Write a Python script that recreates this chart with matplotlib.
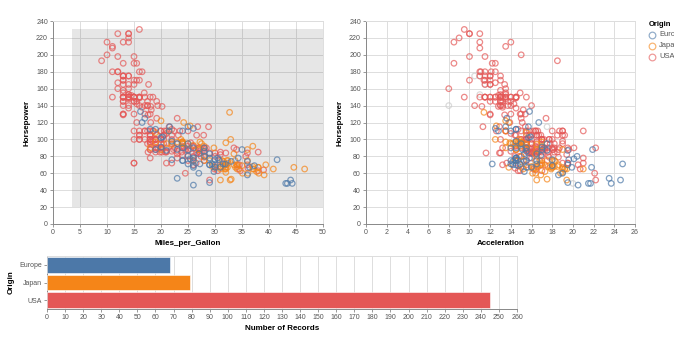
import numpy as np
import matplotlib
matplotlib.use('Agg')
from matplotlib import pyplot as plt
from matplotlib.lines import Line2D
from matplotlib.patches import Rectangle

plt.rcParams['font.family'] = ['Liberation Sans', 'DejaVu Sans']

# (Miles_per_Gallon, Horsepower, Acceleration)
usa_cars = [
  (18,130,12),(15,165,11.5),(18,150,11),(16,150,12),(17,140,10.5),(15,198,10),(14,220,9),
  (14,215,8.5),(14,225,10),(15,190,8.5),(15,170,10),(14,160,8),(15,150,9.5),(14,225,10),
  (22,95,15.5),(18,97,15.5),(21,85,16),(21,90,15),(10,215,14),(10,200,15),(11,210,13.5),
  (9,193,18.5),(28,90,15.5),(19,100,13),(16,105,15.5),(17,100,15.5),(19,88,15.5),(18,100,15.5),
  (14,165,12),(14,175,11.5),(14,153,13.5),(14,150,13),(12,180,11.5),(13,170,12),(13,175,12),
  (18,110,13.5),(22,72,19),(19,100,15),(18,88,14.5),(23,86,14),(26,70,20.5),(20,90,19.5),
  (21,86,16.5),(13,165,12),(14,175,12),(15,150,13.5),(14,153,13),(17,150,11.5),(11,208,11),
  (13,155,13.5),(12,160,13.5),(13,190,12.5),(15,150,12.5),(13,130,14),(13,140,13),(14,150,11.5),
  (22,86,16),(13,175,13),(14,150,11.5),(13,145,13),(14,137,14.5),(15,150,12.5),(12,198,11.5),
  (13,150,12),(13,158,13),(14,150,14.5),(13,215,11),(12,225,11),(13,175,11),(18,105,16.5),
  (16,100,18),(18,100,16),(18,88,16.5),(23,95,16),(11,150,14),(12,167,12.5),(13,170,13),
  (12,180,12.5),(18,100,15),(21,72,19.5),(19,85,18.5),(21,107,14),(15,145,13),(16,230,9.5),
  (15,150,13),(11,180,11),(20,95,16.5),(19,100,17),(15,100,17),(26,80,16.5),(25,75,17),
  (16,100,17),(16,110,18),(18,105,16.5),(16,140,14),(13,150,14.5),(14,150,13.5),(14,140,16),
  (14,150,15.5),(28,75,15.5),(19,95,16),(18,105,16),(15,72,21),(15,72,19.5),(16,170,11.5),
  (15,145,14),(16,150,14.5),(14,148,13.5),(17,110,21),(16,105,18.5),(15,110,19),(18,95,19),
  (21,110,15),(20,110,13.5),(13,129,12),(23,83,16),(20,100,17),(23,78,16),(18,97,16.5),
  (19,90,17),(25,92,14.9),(26,79,17.7),(25,80,17),(17.5,140,13),(16,150,13),(15.5,120,13.9),
  (14.5,152,12.8),(22,100,15.4),(22,105,14.5),(24,81,17.6),(22.5,90,17.6),(29,52,22.2),
  (24.5,60,22.1),(20,100,17.7),(18,78,21),(18.5,110,16.2),(17.5,95,17.8),(26.5,72,13.6),
  (13,150,13.2),(16.5,180,12.1),(13,145,12),(13,130,15),(13,150,14),(30,80,14.8),(25.5,96,15.5),
  (17.5,145,12.5),(17,110,19),(15.5,145,13.7),(15,130,14.9),(17.5,110,16.4),(20.5,105,16.9),
  (19,100,17.7),(18.5,98,19),(16,180,11.1),(15.5,170,11.4),(15.5,190,12.2),(16,149,14.5),
  (24.5,88,16),(25.5,89,15.8),(30.5,63,17),(36.1,66,14.4),(19.9,110,15.5),(19.4,140,13.2),
  (20.2,139,12.8),(19.2,105,19.2),(20.5,95,18.2),(20.2,85,15.8),(25.1,88,15.4),(20.5,100,17.2),
  (19.4,90,17.2),(20.6,105,15.8),(20.8,85,16.7),(18.6,110,18.7),(18.1,120,15.1),(19.2,145,13.2),
  (17.7,165,13.4),(18.1,139,11.2),(17.5,140,13.7),(30,68,16.5),(30.9,75,14.5),(23.2,105,16.7),
  (23.8,85,17.6),(21.5,115,15.4),(19.8,85,18.2),(22.3,88,17.3),(20.2,90,18.2),(20.6,110,16.6),
  (17,130,15.4),(17.6,129,13.4),(16.5,138,13.2),(18.2,135,15.2),(16.9,155,14.9),(15.5,142,14.3),
  (19.2,125,15),(18.5,150,13),(35.7,80,14.4),(27.4,80,15),(23,125,17.4),(23.9,90,22.2),
  (34.2,70,13.2),(34.5,70,14.9),(28.4,90,16),(28.8,115,11.3),(26.8,115,12.9),(33.5,90,13.2),
  (32.1,70,15.5),(28,90,16.5),(26.4,88,18.1),(24.3,90,20.1),(19.1,90,18.7),(27.9,105,14.4),
  (27.2,84,15.7),(26.6,84,16.4),(25.8,92,14.4),(23.5,110,12.6),(30,84,12.9),(39,64,16.4),
  (34.7,63,14.9),(34.4,65,16.2),(29.9,65,20.7),(22.4,110,15.8),(26.6,105,19),(20.2,88,17.1),
  (17.6,85,16.6),(28,88,19.6),(27,88,18.6),(34,88,18),(31,85,16.2),(29,84,16),(27,90,18),
  (24,92,16.4),(38,63,14.7),(36,70,17.3),(25,110,16.4),(38,85,17),(26,92,14.5),(22,112,14.7),
  (36,84,13),(27,90,17.3),(27,86,15.6),(32,84,11.6),(28,79,18.6),(31,82,19.4),
]
europe_cars = [
  (26,46,20.5),(25,87,17.5),(24,90,14.5),(25,95,17.5),(26,113,12.5),(28,90,14),(30,70,19.5),
  (30,76,14.5),(27,60,19),(23,54,23.5),(18,112,14.5),(22,76,18),(21,87,19.5),(26,69,18),
  (26,90,15.5),(29,49,19.5),(24,75,16.5),(20,91,17),(19,112,14.5),(24,110,14),(29,83,16.5),
  (26,67,15.5),(26,78,14.5),(24,75,15.5),(26,75,14),(31,67,16),(25,71,16.5),(29,70,14.5),
  (23,95,15),(23,88,17),(22,98,14.5),(25,115,13.5),(28,86,15.5),(25,81,16.9),(27,83,15.3),
  (29,70,14.2),(29.5,71,12.2),(20,102,15.7),(19,88,21.9),(16.5,120,16.7),(36,58,18.6),
  (29,78,14.5),(30.5,78,14.5),(21.5,110,12.8),(43.1,48,21.5),(20.3,103,15.9),(17,125,13.6),
  (21.6,115,15.7),(16.2,133,15.8),(31.5,71,14.9),(31.9,71,14),(25.4,77,20.1),(27.2,71,24.8),
  (37.3,69,14.7),(41.5,76,14.7),(34.3,78,15.8),(44.3,48,21.7),(43.4,48,23.7),(36.4,67,19.9),
  (30,67,21.8),(29.8,62,15.3),(35,88,15.1),(33,74,14.2),(28.1,80,20.4),(30.7,76,19.6),
  (36,74,15.3),(44,52,24.6),
]
japan_cars = [
  (24,95,15),(27,88,14.5),(25,95,14),(31,65,19),(35,69,18),(24,95,15.5),(19,97,13.5),
  (28,92,17),(23,97,14.5),(28,80,15),(27,88,16.5),(20,88,19),(22,94,16.5),(18,90,13.5),
  (20,122,13.5),(31,67,19),(32,65,21),(31,52,16.5),(32,61,19),(24,97,15),(26,93,15.5),
  (29,75,18),(24,96,15),(24,97,17),(33,53,17.5),(32,70,17),(28,75,16.4),(19,108,15.5),
  (31.5,68,18.5),(33.5,70,16.8),(26,75,18.2),(33.5,83,16.4),(30,67,18),(22,97,14.5),
  (21.5,110,13.5),(32.8,52,19.4),(39.4,70,18.6),(36.1,60,16.4),(27.5,95,14.2),(27.2,97,14.7),
  (21.1,95,14.8),(23.9,97,14.9),(29.5,68,16.6),(34.1,65,15.2),(31.8,65,19.2),(38.1,60,18.8),
  (37.2,65,16.4),(29.8,90,15.5),(31.3,75,17.5),(37,92,15),(32.2,75,15.2),(46.6,65,17.9),
  (40.8,65,19.2),(44.6,67,13.8),(33.8,67,18),(32.7,132,11.4),(23.7,100,12.5),(32.4,72,17),
  (39.1,58,16.9),(35.1,60,16.1),(32.3,67,17.8),(37,65,19.4),(37.7,62,17.3),(34.1,68,16),
  (33.7,75,14.4),(32.4,75,16.8),(32.9,100,14.8),(31.6,74,18.3),(25.4,116,12.6),(24.2,120,13.8),
  (37,68,18.2),(31,68,17.6),(36,88,14.5),(36,75,14.5),(34,70,16.9),(38,67,15),(32,67,15.7),
  (38,67,16.2),(32,96,13.9),
]
# cars outside the brush (no mpg value): (Horsepower, Acceleration)
unselected_cars = [(115,17.5),(165,11.5),(153,11),(175,10.5),(175,11),(140,8),(48,20),(110,15.4)]

origins = ['Europe', 'Japan', 'USA']
record_counts = [68, 79, 245]
colors = {'Europe': '#4c78a8', 'Japan': '#f58518', 'USA': '#e45756'}
cars_by_origin = {'Europe': europe_cars, 'Japan': japan_cars, 'USA': usa_cars}

brush_mpg = (3.6, 50)
brush_hp = (20, 231)

GRID = '#dddddd'
DOMAIN = '#888888'
TICK_FS = 5
TITLE_FS = 5.8
PT_SIZE = 16

def style_axes(ax, grid_axis='both'):
  for s in ['top', 'right']:
    ax.spines[s].set_color(GRID)
    ax.spines[s].set_linewidth(0.7)
  for s in ['left', 'bottom']:
    ax.spines[s].set_color(DOMAIN)
    ax.spines[s].set_linewidth(0.7)
  ax.tick_params(colors=DOMAIN, labelcolor='#555555', labelsize=TICK_FS, length=2.2,
                 width=0.6, pad=1.5)
  ax.grid(True, axis=grid_axis, color=GRID, linewidth=0.7)
  ax.set_axisbelow(True)

fig = plt.figure(figsize=(6.92, 3.52), dpi=100)

# --- left: Horsepower vs Miles_per_Gallon
ax1 = fig.add_axes([53/692, 1-224/352, 270/692, 203/352])
style_axes(ax1)
ax1.add_patch(Rectangle((brush_mpg[0], brush_hp[0]), brush_mpg[1]-brush_mpg[0],
                        brush_hp[1]-brush_hp[0], facecolor='#333333', alpha=0.12,
                        edgecolor='none', zorder=1.5))
for o in ['USA', 'Japan', 'Europe']:
  d = np.array(cars_by_origin[o])
  ax1.scatter(d[:, 0], d[:, 1], s=PT_SIZE, facecolors='none', edgecolors=colors[o],
              linewidths=0.9, alpha=0.7, zorder=3)
ax1.set_xlim(0, 50)
ax1.set_ylim(0, 240)
ax1.set_xticks(np.arange(0, 51, 5))
ax1.set_yticks(np.arange(0, 241, 20))
ax1.set_xlabel('Miles_per_Gallon', fontsize=TITLE_FS, fontweight='bold', labelpad=3)
ax1.set_ylabel('Horsepower', fontsize=TITLE_FS, fontweight='bold', labelpad=4)

# --- right: Horsepower vs Acceleration
ax2 = fig.add_axes([366/692, 1-224/352, 269/692, 203/352])
style_axes(ax2)
g = np.array(unselected_cars)
ax2.scatter(g[:, 1], g[:, 0], s=PT_SIZE, facecolors='none', edgecolors='#cccccc',
            linewidths=0.9, alpha=0.7, zorder=3)
for o in ['USA', 'Japan', 'Europe']:
  d = np.array(cars_by_origin[o])
  ax2.scatter(d[:, 2], d[:, 1], s=PT_SIZE, facecolors='none', edgecolors=colors[o],
              linewidths=0.9, alpha=0.7, zorder=3)
ax2.set_xlim(0, 26)
ax2.set_ylim(0, 240)
ax2.set_xticks(np.arange(0, 27, 2))
ax2.set_yticks(np.arange(0, 241, 20))
ax2.set_xlabel('Acceleration', fontsize=TITLE_FS, fontweight='bold', labelpad=3)
ax2.set_ylabel('Horsepower', fontsize=TITLE_FS, fontweight='bold', labelpad=4)

# legend; labels are cut at a fixed width as in the original
fig.text(649/692, 1-24/352, 'Origin', fontsize=5.5, fontweight='bold', va='center')
for i, o in enumerate(origins):
  yy = 1 - (34.5 + i*11)/352
  fig.add_artist(Line2D([652/692], [yy], transform=fig.transFigure, linestyle='none',
                        marker='o', markersize=4.8, markerfacecolor='none',
                        markeredgecolor=colors[o], markeredgewidth=0.9, alpha=0.6))
  fig.text(659/692, yy, o, fontsize=TICK_FS+0.4, color='#555555', va='center')
fig.add_artist(Rectangle((674/692, 1-64/352), 18/692, 34/352, transform=fig.transFigure,
                         facecolor='white', edgecolor='none', zorder=10))

# --- bottom: Number of Records by Origin
ax3 = fig.add_axes([47/692, 1-309/352, 470/692, 53/352])
style_axes(ax3, grid_axis='x')
ypos = np.arange(len(origins))
ax3.barh(ypos, record_counts, height=0.9, color=[colors[o] for o in origins],
         edgecolor='white', linewidth=0.4, zorder=3)
ax3.set_ylim(len(origins)-0.5, -0.5)
ax3.set_yticks(ypos)
ax3.set_yticklabels(origins)
ax3.set_xlim(0, 260)
ax3.set_xticks(np.arange(0, 261, 10))
ax3.set_xlabel('Number of Records', fontsize=TITLE_FS, fontweight='bold', labelpad=3)
ax3.set_ylabel('Origin', fontsize=TITLE_FS, fontweight='bold', labelpad=3)

fig.savefig('out.png', dpi=100)
